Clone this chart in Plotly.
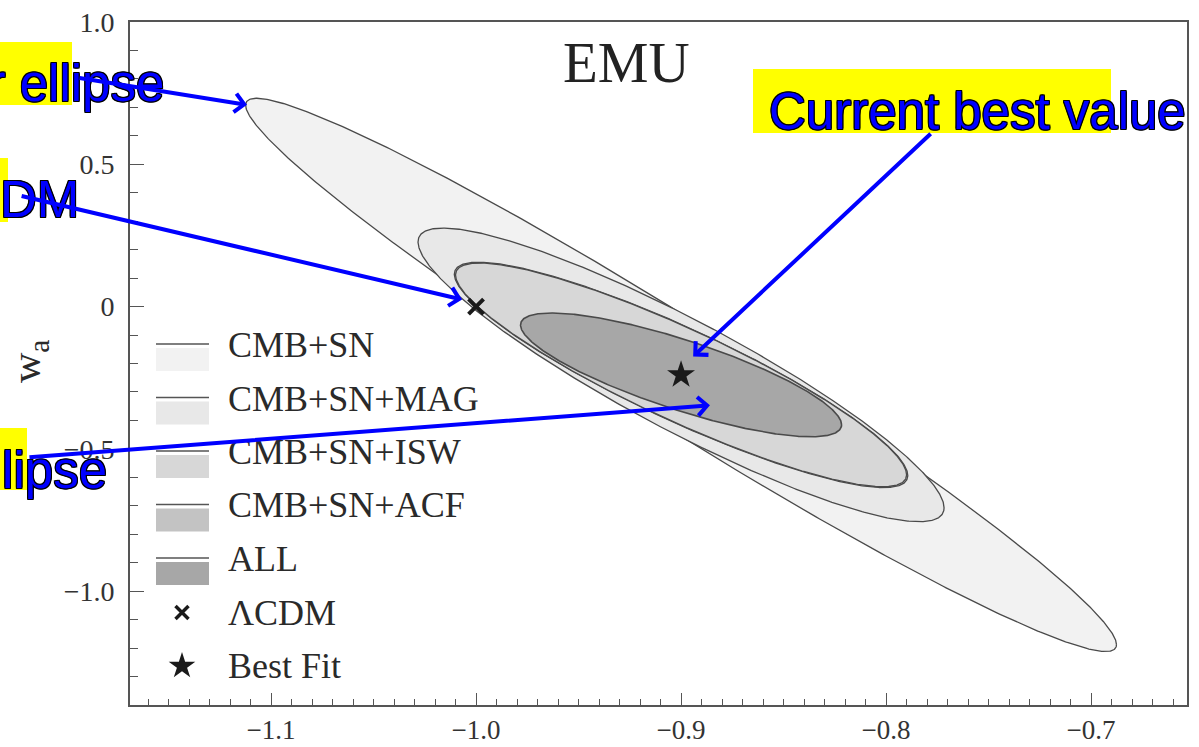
import numpy as np
import plotly.graph_objects as go

# Forecast constraints on (w0, wa): half-extents of each contour along w0 and wa,
# and the w0-wa correlation, all centred on the fiducial best fit.
labels = ["CMB+SN", "CMB+SN+MAG", "CMB+SN+ISW", "CMB+SN+ACF", "ALL"]
dw0 = [0.2124, 0.1283, 0.1100, 0.1106, 0.0783]
dwa = [0.972, 0.516, 0.393, 0.396, 0.2175]
corr = [-0.975, -0.905, -0.893, -0.893, -0.806]
fills = ["#f2f2f2", "#e8e8e8", "#d7d7d7", "#c3c3c3", "#a7a7a7"]
draw_order = [0, 1, 3, 2, 4]

best_fit = (-0.9, -0.24)
lcdm = (-1.0, 0.0)

xtick_vals = [-1.1, -1.0, -0.9, -0.8, -0.7]
xtick_text = ["−1.1", "−1.0", "−0.9", "−0.8", "−0.7"]
ytick_vals = [-1.0, -0.5, 0.0, 0.5, 1.0]
ytick_text = ["−1.0", "−0.5", "0", "0.5", "1.0"]

W, H = 1199, 747
ML, MR, MT, MB = 130, 12, 22, 42
PW, PH = W - ML - MR, H - MT - MB

SERIF = "Liberation Serif, Times New Roman, serif"
SANS = "Liberation Sans, Arial, sans-serif"


def px(xp):
    return (xp - ML) / PW


def py(yp):
    return (H - MB - yp) / PH


fig = go.Figure()

t = np.linspace(0, 2 * np.pi, 721)
for i in draw_order:
    r = corr[i]
    ex = best_fit[0] + dw0[i] * np.cos(t)
    ey = best_fit[1] + dwa[i] * (r * np.cos(t) + np.sqrt(1 - r * r) * np.sin(t))
    fig.add_trace(go.Scatter(
        x=ex, y=ey, mode="lines", fill="toself", fillcolor=fills[i],
        line=dict(color="#4a4a4a", width=1.6 if i == 4 else 1.3),
        name=labels[i], showlegend=False, hoverinfo="skip"))

fig.add_trace(go.Scatter(
    x=[lcdm[0]], y=[lcdm[1]], mode="markers", name="ΛCDM", showlegend=False,
    marker=dict(symbol="x-thin", size=15, line=dict(width=4, color="#1a1a1a"))))
fig.add_trace(go.Scatter(
    x=[best_fit[0]], y=[best_fit[1]], mode="markers", name="Best Fit", showlegend=False,
    marker=dict(symbol="star", size=21, color="#1a1a1a", line=dict(width=0))))

# Hand-drawn key in the lower-left corner
shapes = []
annotations = []
row0, row_step = 345, 53.5
for k, i in enumerate(range(5)):
    mid = row0 + row_step * k
    shapes.append(dict(type="rect", xref="paper", yref="paper",
                       x0=px(156), x1=px(209), y0=py(mid + 26), y1=py(mid + 3),
                       fillcolor=fills[i], line=dict(width=0), layer="above"))
    shapes.append(dict(type="line", xref="paper", yref="paper",
                       x0=px(156), x1=px(209), y0=py(mid - 1), y1=py(mid - 1),
                       line=dict(color="#555555", width=1.6), layer="above"))
key_text = labels + ["ΛCDM", "Best Fit"]
for k, txt in enumerate(key_text):
    mid = row0 + row_step * k
    annotations.append(dict(xref="paper", yref="paper", x=px(226), y=py(mid),
                            text=txt, showarrow=False, xanchor="left", yanchor="middle",
                            font=dict(family=SERIF, size=36, color="#2a2a2a")))

fig.add_trace(go.Scatter(
    x=[px(182)], y=[py(row0 + row_step * 5)], xaxis="x2", yaxis="y2", mode="markers",
    showlegend=False, hoverinfo="skip",
    marker=dict(symbol="x-thin", size=13, line=dict(width=3.5, color="#1a1a1a"))))
fig.add_trace(go.Scatter(
    x=[px(182)], y=[py(row0 + row_step * 6)], xaxis="x2", yaxis="y2", mode="markers",
    showlegend=False, hoverinfo="skip",
    marker=dict(symbol="star", size=20, color="#1a1a1a", line=dict(width=0))))

# Title and axis label
annotations.append(dict(xref="paper", yref="paper", x=px(626), y=py(62),
                        text="EMU", showarrow=False, xanchor="center", yanchor="middle",
                        font=dict(family=SERIF, size=57, color="#222222")))
annotations.append(dict(xref="paper", yref="paper", x=px(29), y=py(362),
                        text="w<sub>a</sub>", showarrow=False, textangle=-90,
                        xanchor="center", yanchor="middle",
                        font=dict(family=SERIF, size=42, color="#2a2a2a")))

# Highlighted callouts with arrows
outline = ("-1px -1px 0 #000, 1px -1px 0 #000, -1px 1px 0 #000, 1px 1px 0 #000, "
           "0 -1px 0 #000, 0 1px 0 #000, -1px 0 0 #000, 1px 0 0 #000")
callout_font = dict(family=SANS, size=51, color="#0000ff", shadow=outline)
boxes = [(0, 72, 42, 105), (0, 8, 158, 222), (0, 27, 428, 490), (753, 1111, 69, 133)]
for x0, x1, y0, y1 in boxes:
    shapes.append(dict(type="rect", xref="paper", yref="paper",
                       x0=px(x0) if x0 > 0 else px(-5), x1=px(x1), y0=py(y1), y1=py(y0),
                       fillcolor="#ffff00", line=dict(width=0), layer="above"))

callouts = [
    ("Outer ellipse", 166, 84, "right"),
    ("ΛCDM", 81, 200, "right"),
    ("Inner ellipse", 109, 470, "right"),
    ("Current best value", 767, 112, "left"),
]
for txt, xp, yp, anchor in callouts:
    annotations.append(dict(xref="paper", yref="paper", x=px(xp), y=py(yp), text=txt,
                            showarrow=False, xanchor=anchor, yanchor="middle",
                            font=callout_font))

# Arrow heads in data coordinates, tails as pixel offsets
arrows = [
    (-1.1117, 0.709, 78 - 247, 78 - 105),
    (-1.0068, 0.0246, 20 - 462, 196 - 300),
    (-0.8859, -0.347, 28 - 710, 458 - 406),
    (-0.8941, -0.175, 932 - 693, 133 - 357),
]
for hx, hy, ax, ay in arrows:
    annotations.append(dict(x=hx, y=hy, xref="x", yref="y", ax=ax, ay=ay,
                            axref="pixel", ayref="pixel", text="", showarrow=True,
                            arrowhead=4, arrowsize=0.9, arrowwidth=4,
                            arrowcolor="#0000ff", standoff=0))

axis_common = dict(showgrid=False, zeroline=False, showline=True, mirror=True,
                   automargin=False,
                   linecolor="#555555", linewidth=1.6, ticks="inside",
                   tickcolor="#555555", tickwidth=1.4)

fig.update_layout(
    width=W, height=H,
    margin=dict(l=ML, r=MR, t=MT, b=MB, autoexpand=False),
    paper_bgcolor="white", plot_bgcolor="white",
    showlegend=False,
    xaxis=dict(range=[-1.1688, -0.6532], tickmode="array", tickvals=xtick_vals,
               ticktext=xtick_text, ticklen=12, ticklabelstandoff=0,
               tickfont=dict(family=SERIF, size=27, color="#333333"),
               minor=dict(dtick=0.01, tick0=0, ticks="inside", ticklen=6,
                          tickcolor="#555555", tickwidth=1.2, showgrid=False),
               **axis_common),
    yaxis=dict(range=[-1.4, 1.0], tickmode="array", tickvals=ytick_vals,
               ticktext=ytick_text, ticklen=14, ticklabelstandoff=8,
               tickfont=dict(family=SERIF, size=28, color="#333333"),
               minor=dict(dtick=0.1, tick0=0, ticks="inside", ticklen=8,
                          tickcolor="#555555", tickwidth=1.2, showgrid=False),
               **axis_common),
    xaxis2=dict(overlaying="x", range=[0, 1], visible=False),
    yaxis2=dict(overlaying="y", range=[0, 1], visible=False),
    shapes=shapes,
    annotations=annotations,
)

fig.write_html("out.html")
